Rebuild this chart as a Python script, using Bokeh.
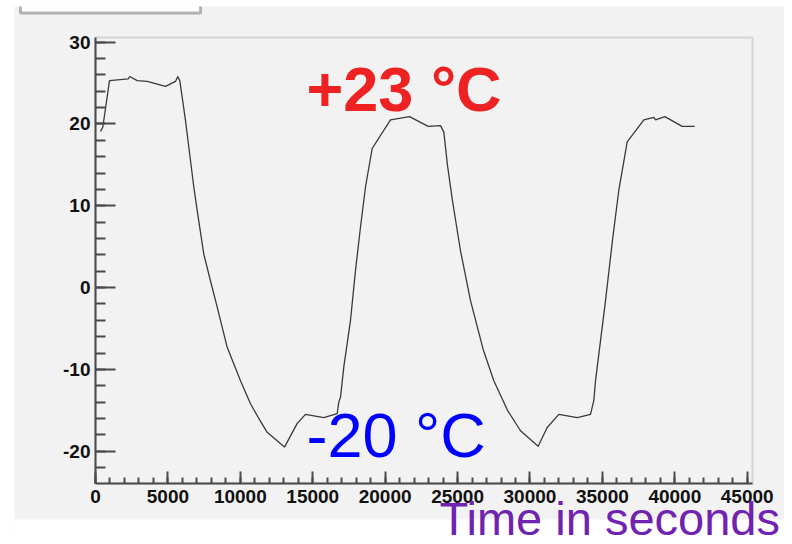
from bokeh.plotting import figure
from bokeh.models import (Range1d, SingleIntervalTicker, Label, BoxAnnotation,
                          PrintfTickFormatter)
from bokeh.embed import file_html
from bokeh.resources import INLINE

# Time (s) and temperature (deg C)
time_s = [345, 504, 967, 2258, 2368, 2880, 3570, 4834, 5524, 5683, 5821,
          6215, 6560, 6788, 7022, 7478, 7941, 8403, 9094, 10012, 10703, 11276,
          11855, 13050, 13928, 14500, 15764, 16688, 16800, 16918, 17146, 17608,
          17953, 18298, 18644, 19104, 20370, 21682, 22973, 23822, 24053, 24306,
          24650, 25203, 25894, 26791, 27504, 28449, 29345, 30565, 31190, 31992,
          33262, 34180, 34410, 34525, 35216, 35699, 36135, 36714, 37864, 38555,
          38672, 39310, 40512, 41382]
temp_c = [19.1, 19.6, 25.3, 25.5, 25.8, 25.3, 25.2, 24.6, 25.2, 25.8, 25.3,
          20.4, 15.5, 12.3, 9.4, 4.1, 0.8, -2.4, -7.3, -11.4, -14.2, -16.0,
          -17.7, -19.5, -16.6, -15.5, -15.9, -15.4, -14.0, -13.4, -9.7, -4.0,
          2.1, 7.4, 12.3, 17.0, 20.5, 20.9, 19.7, 19.8, 19.0, 14.9,
          10.6, 4.5, -1.6, -7.7, -11.4, -15.0, -17.5, -19.4, -17.1, -15.5,
          -15.9, -15.5, -13.8, -11.4, -1.6, 5.8, 11.9, 17.8, 20.5, 20.8,
          20.5, 20.9, 19.7, 19.7]

x_tick_interval = 5000
y_tick_interval = 10
x_axis_span = (0, 45366)
y_axis_span = (-23.95, 30.57)
hot_text = "+23 °C"
cold_text = "-20 °C"
x_title = "Time in seconds"

BG = "#f2f2f2"
AX = "#4a4a4a"

p = figure(width=784, height=536, output_backend="svg", toolbar_location=None,
           x_range=Range1d(-5593, 47575), y_range=Range1d(-30.43, 34.36),
           min_border=0, min_border_left=14, min_border_top=6,
           min_border_right=0, min_border_bottom=0)
p.background_fill_color = BG
p.border_fill_color = "white"
p.outline_line_color = None
p.grid.visible = False

p.xaxis.ticker = SingleIntervalTicker(interval=x_tick_interval, num_minor_ticks=5)
p.yaxis.ticker = SingleIntervalTicker(interval=y_tick_interval, num_minor_ticks=5)
p.xaxis.formatter = PrintfTickFormatter(format="%d")
p.yaxis.formatter = PrintfTickFormatter(format="%d")
p.xaxis.fixed_location = y_axis_span[0]
p.yaxis.fixed_location = x_axis_span[0]
p.xaxis.bounds = x_axis_span
p.yaxis.bounds = y_axis_span
for ax in (p.xaxis[0], p.yaxis[0]):
    ax.major_tick_out = 0
    ax.minor_tick_out = 0
    ax.axis_line_color = AX
    ax.axis_line_width = 2
    ax.major_tick_line_color = AX
    ax.major_tick_line_width = 2
    ax.minor_tick_line_color = AX
    ax.minor_tick_line_width = 2
    ax.major_label_text_font = "Liberation Sans"
    ax.major_label_text_font_style = "bold"
    ax.major_label_text_font_size = "19px"
    ax.major_label_text_color = "#111111"
p.xaxis.major_label_standoff = 7
p.yaxis.major_label_standoff = 5
p.xaxis.major_tick_in = 12
p.xaxis.minor_tick_in = 6
p.yaxis.major_tick_in = 20
p.yaxis.minor_tick_in = 10

# plot-box outline (top/right edges visible in grey)
p.add_layout(BoxAnnotation(left=x_axis_span[0], right=x_axis_span[1],
                           bottom=y_axis_span[0], top=y_axis_span[1],
                           fill_color=None, line_color="#8c8c8c", line_width=2,
                           level="underlay"))
# white strip under the grey area
p.add_layout(BoxAnnotation(left=-10000, right=60000, bottom=-40, top=-28.35,
                           fill_color="white", fill_alpha=1, line_alpha=0,
                           level="underlay"))
# partial title box at top-left
p.add_layout(BoxAnnotation(left=-5179, right=7250, bottom=33.57, top=40,
                           fill_color="white", fill_alpha=1,
                           line_color="#111111", line_width=3, level="underlay"))

p.line(time_s, temp_c, line_color="#3a3a3a", line_width=1.3)

p.add_layout(Label(x=14570, y=24.22, text=hot_text, text_font="Liberation Sans",
                   text_font_style="bold", text_font_size="63px",
                   text_color="#ee2222", text_baseline="alphabetic"))
p.add_layout(Label(x=14570, y=-18.08, text=cold_text, text_font="Liberation Sans",
                   text_font_size="63px", text_color="#0000ff",
                   text_baseline="alphabetic"))
p.add_layout(Label(x=23753, y=-28.2, text=x_title, text_font="Liberation Sans",
                   text_font_size="47px", text_color="#7022b0",
                   text_baseline="alphabetic"))

open("out.html", "w").write(file_html(p, INLINE))
